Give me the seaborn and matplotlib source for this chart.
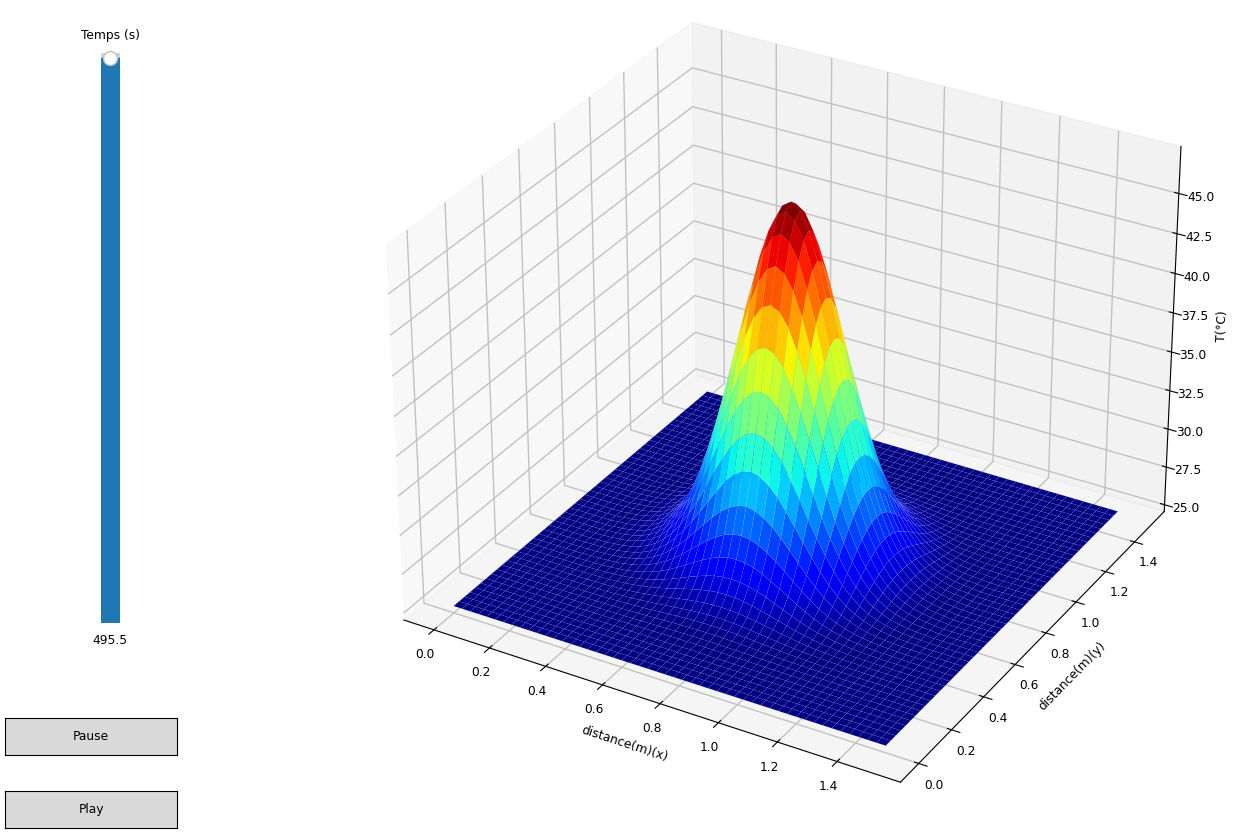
import numpy as np
import matplotlib
matplotlib.use("Agg")
import matplotlib.pyplot as plt
from matplotlib.widgets import Slider, Button
import seaborn as sns

sns.reset_orig()
plt.rcParams["font.size"] = 8.8

# Estimated temperature rise (deg C) above ambient, by cell offset from the hot spot
rise_rows = [
    [22.50, 22.12, 21.04, 19.34, 17.21, 14.83, 12.38, 10.02, 7.85, 5.97, 4.38, 3.14, 2.17, 1.46, .95, .60, .37, .22, .12, .07, .04],
    [21.75, 20.69, 19.01, 16.93, 14.59, 12.18, 9.85, 7.73, 5.85, 4.31, 3.09, 2.14, 1.44, .93, .59, .36, .22, .12, .07],
    [19.67, 18.08, 16.12, 13.88, 11.60, 9.39, 7.36, 5.57, 4.11, 2.95, 2.04, 1.37, .89, .56, .35, .21, .11, .07],
    [16.65, 14.83, 12.79, 10.69, 8.66, 6.79, 5.15, 3.79, 2.72, 1.88, 1.26, .82, .52, .32, .19, .10, .06],
    [13.22, 11.41, 9.54, 7.72, 6.03, 4.60, 3.39, 2.43, 1.68, 1.13, .74, .46, .29, .17, .09, .05],
    [9.85, 8.25, 6.69, 5.22, 3.99, 2.94, 2.11, 1.46, .98, .64, .40, .25, .15, .08, .05],
    [6.91, 5.57, 4.38, 3.35, 2.47, 1.77, 1.22, .82, .54, .34, .21, .12, .07, .04],
    [4.53, 3.56, 2.72, 2.01, 1.44, .99, .67, .43, .27, .17, .10, .05, .03],
    [2.80, 2.14, 1.58, 1.13, .78, .53, .34, .22, .13, .08, .04, .03],
    [1.63, 1.20, .86, .60, .40, .26, .16, .10, .06, .03, .02],
    [.89, .64, .44, .30, .19, .12, .08, .04, .02, .01],
    [.46, .32, .21, .14, .09, .05, .03, .02, .01],
    [.22, .15, .10, .06, .04, .02, .01, .01],
    [.10, .06, .04, .02, .01, .01],
    [.04, .03, .02, .01, .01],
    [.02, .01, .01],
    [.01],
]
ambient = 25.0
length_m = 1.5
n_points = 51
time_now = 495.5
time_max = 500.0
axis_ticks = [0.0, 0.2, 0.4, 0.6, 0.8, 1.0, 1.2, 1.4]
temp_ticks = [25.0, 27.5, 30.0, 32.5, 35.0, 37.5, 40.0, 42.5, 45.0]

x = np.linspace(0, length_m, n_points)
y = np.linspace(0, length_m, n_points)
X, Y = np.meshgrid(x, y)
Z = np.full(X.shape, ambient)
mid = n_points // 2
for i in range(n_points):
    for j in range(n_points):
        a, b = sorted((abs(i - mid), abs(j - mid)))
        if a < len(rise_rows) and b - a < len(rise_rows[a]):
            Z[i, j] = ambient + rise_rows[a][b - a]

W, H = 1233, 834
fig = plt.figure(figsize=(W / 100, H / 100), dpi=100)
ax = fig.add_axes([0.2119, -0.0048, 0.84, 1.06], projection="3d")
surface = ax.plot_surface(X, Y, Z, cmap="jet",
                          rstride=1, cstride=1, linewidth=0.35, antialiased=True)
surface.set_edgecolor((0.65, 0.7, 1.0, 0.16))
ax.set_zlim(24.55, 47.9)
ax.set_xticks(axis_ticks)
ax.set_yticks(axis_ticks)
ax.set_zticks(temp_ticks)
ax.tick_params(axis="both", pad=1.5)
ax.set_xlabel("distance(m)(x)", labelpad=2)
ax.set_ylabel("distance(m)(y)", labelpad=2)
ax.set_zlabel("T(°C)", labelpad=1)
for axis in (ax.xaxis, ax.yaxis, ax.zaxis):
    axis._axinfo["grid"].update(color=(0.76, 0.76, 0.76, 1), linewidth=1.0)

def box(l, t, r, b):
    return [l / W, 1 - b / H, (r - l) / W, (b - t) / H]

sax = fig.add_axes(box(101, 53, 119.5, 623))
slider = Slider(sax, "Temps (s)", 0, time_max, valinit=time_now,
                orientation="vertical", valfmt="%.1f")
slider.track.set_x(0)
slider.track.set_width(1)
slider.track.set_height(1)
slider.poly.remove()
slider.poly = sax.axhspan(0, time_now, 0, 1, color="#1f77b4", zorder=1)
slider.label.set_y(1.02)
pause = Button(fig.add_axes(box(5, 718, 177, 755)), "Pause")
play = Button(fig.add_axes(box(5, 791, 177, 828)), "Play")

fig.savefig("out.png", dpi=100)
